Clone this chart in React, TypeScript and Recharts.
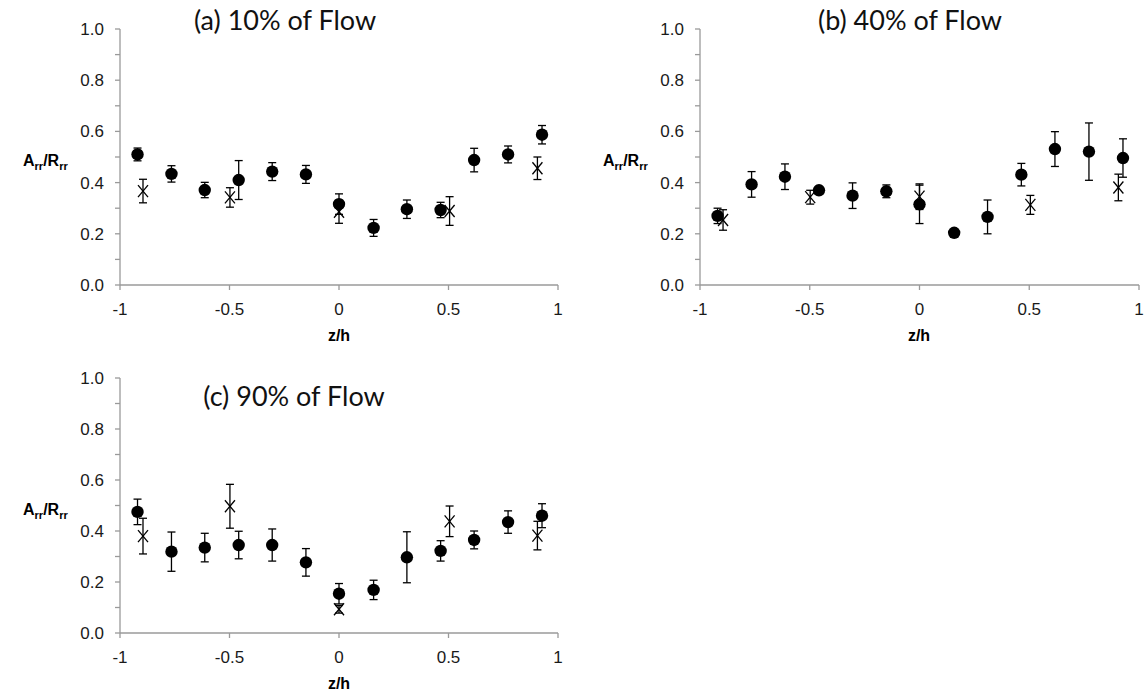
import React from 'react';
import { ScatterChart, Scatter, XAxis, YAxis, ErrorBar } from 'recharts';

// Positions (z/h)
const zCircle = [-0.92, -0.765, -0.613, -0.458, -0.305, -0.151, 0, 0.158, 0.31, 0.464, 0.617, 0.772, 0.927];
const zCross = [-0.895, -0.498, 0, 0.505, 0.906];

// (a) 10% of Flow
const a10Circle = [0.51, 0.434, 0.371, 0.41, 0.443, 0.432, 0.316, 0.223, 0.296, 0.293, 0.488, 0.51, 0.587];
const a10CircleErr = [0.025, 0.032, 0.03, 0.076, 0.035, 0.035, 0.04, 0.033, 0.036, 0.03, 0.046, 0.033, 0.036];
const a10Cross = [0.367, 0.342, 0.286, 0.289, 0.456];
const a10CrossErr = [0.046, 0.038, 0.045, 0.056, 0.044];

// (b) 40% of Flow
const b40Circle = [0.27, 0.393, 0.423, 0.37, 0.349, 0.366, 0.315, 0.204, 0.266, 0.431, 0.531, 0.521, 0.496];
const b40CircleErr = [0.03, 0.05, 0.05, 0.015, 0.05, 0.025, 0.075, 0.01, 0.066, 0.044, 0.068, 0.112, 0.075];
const b40Cross = [0.254, 0.343, 0.345, 0.313, 0.381];
const b40CrossErr = [0.04, 0.027, 0.05, 0.037, 0.052];

// (c) 90% of Flow
const c90Circle = [0.475, 0.319, 0.335, 0.345, 0.345, 0.277, 0.154, 0.169, 0.297, 0.322, 0.365, 0.435, 0.46];
const c90CircleErr = [0.05, 0.077, 0.056, 0.054, 0.063, 0.054, 0.04, 0.038, 0.1, 0.04, 0.035, 0.044, 0.047];
const c90Cross = [0.38, 0.497, 0.093, 0.438, 0.382];
const c90CrossErr = [0.07, 0.086, 0.015, 0.06, 0.056];

const xTicks = [-1, -0.5, 0, 0.5, 1];
const yTicks = [0, 0.1, 0.2, 0.3, 0.4, 0.5, 0.6, 0.7, 0.8, 0.9, 1.0];

const titles = ['(a) 10% of Flow', '(b) 40% of Flow', '(c) 90% of Flow'];

const AXIS_COLOR = '#9a9a9a';
const TICK_FONT = { fontFamily: '"Liberation Sans", Arial, sans-serif', fontSize: 17, fill: '#1a1a1a' };

const renderCircle = (props: any) => {
  const { cx, cy } = props;
  if (cx == null || cy == null) return <g />;
  return <circle cx={cx} cy={cy} r={6.2} fill="#000" stroke="none" />;
};

const renderCross = (props: any) => {
  const { cx, cy } = props;
  if (cx == null || cy == null) return <g />;
  return (
    <g stroke="#000" strokeWidth={1.3}>
      <line x1={cx - 5} y1={cy - 6} x2={cx + 5} y2={cy + 6} />
      <line x1={cx - 5} y1={cy + 6} x2={cx + 5} y2={cy - 6} />
    </g>
  );
};

type PanelProps = {
  left: number;
  top: number;
  width: number;
  height: number;
  rightMargin: number;
  circles: number[];
  circleErr: number[];
  crosses: number[];
  crossErr: number[];
};

function Panel({ left, top, width, height, rightMargin, circles, circleErr, crosses, crossErr }: PanelProps) {
  const circleData = zCircle.map((z, i) => ({ z, v: circles[i], e: circleErr[i] }));
  const crossData = zCross.map((z, i) => ({ z, v: crosses[i], e: crossErr[i] }));
  return (
    <div style={{ position: 'absolute', left, top }}>
      <ScatterChart width={width} height={height} margin={{ top: 29, right: rightMargin, bottom: 0, left: 0 }}>
        <XAxis
          type="number"
          dataKey="z"
          domain={[-1, 1]}
          ticks={xTicks}
          interval={0}
          height={65}
          tickSize={5}
          tickMargin={13}
          axisLine={{ stroke: AXIS_COLOR, strokeWidth: 1.3 }}
          tickLine={{ stroke: AXIS_COLOR, strokeWidth: 1.3 }}
          tick={TICK_FONT}
          allowDataOverflow
        />
        <YAxis
          type="number"
          dataKey="v"
          domain={[0, 1]}
          ticks={yTicks}
          interval={0}
          width={120}
          tickSize={5}
          tickMargin={11}
          axisLine={{ stroke: AXIS_COLOR, strokeWidth: 1.3 }}
          tickLine={{ stroke: AXIS_COLOR, strokeWidth: 1.3 }}
          tick={TICK_FONT}
          tickFormatter={(v: number) => (Math.round(v * 10) % 2 === 0 ? v.toFixed(1) : '')}
          allowDataOverflow
        />
        <Scatter data={crossData} shape={renderCross} isAnimationActive={false}>
          <ErrorBar dataKey="e" direction="y" width={4} stroke="#000" strokeWidth={1.3} />
        </Scatter>
        <Scatter data={circleData} shape={renderCircle} isAnimationActive={false}>
          <ErrorBar dataKey="e" direction="y" width={4} stroke="#000" strokeWidth={1.3} />
        </Scatter>
      </ScatterChart>
    </div>
  );
}

const YLabel = ({ x, y }: { x: number; y: number }) => (
  <text x={x} y={y} fontFamily='"Liberation Sans", Arial, sans-serif' fontWeight="bold" fontSize={16} fill="#000">
    A<tspan fontSize={11} dy={4}>rr</tspan>
    <tspan dy={-4}>/R</tspan>
    <tspan fontSize={11} dy={4}>rr</tspan>
  </text>
);

const XLabel = ({ x, y }: { x: number; y: number }) => (
  <text x={x} y={y} textAnchor="middle" fontFamily='"Liberation Sans", Arial, sans-serif' fontWeight="bold" fontSize={16} fill="#000">
    z/h
  </text>
);

const Title = ({ x, y, label }: { x: number; y: number; label: string }) => (
  <text x={x} y={y} textAnchor="middle" fontFamily="Lato, 'Open Sans', sans-serif" fontSize={27} fill="#111">
    {label}
  </text>
);

export default function App() {
  return (
    <div style={{ position: 'absolute', left: 0, top: 0, width: 1144, height: 698, background: '#fff', overflow: 'hidden' }}>
      <Panel left={0} top={0} width={570} height={350} rightMargin={12} circles={a10Circle} circleErr={a10CircleErr} crosses={a10Cross} crossErr={a10CrossErr} />
      <Panel left={580} top={0} width={564} height={350} rightMargin={5} circles={b40Circle} circleErr={b40CircleErr} crosses={b40Cross} crossErr={b40CrossErr} />
      <Panel left={0} top={349} width={570} height={349} rightMargin={12} circles={c90Circle} circleErr={c90CircleErr} crosses={c90Cross} crossErr={c90CrossErr} />
      <svg width={1144} height={698} style={{ position: 'absolute', left: 0, top: 0, pointerEvents: 'none' }}>
        <Title x={285} y={30} label={titles[0]} />
        <Title x={910} y={30} label={titles[1]} />
        <Title x={294} y={406} label={titles[2]} />
        <YLabel x={23} y={166} />
        <YLabel x={603} y={166} />
        <YLabel x={23} y={515} />
        <XLabel x={339} y={341} />
        <XLabel x={919} y={341} />
        <XLabel x={339} y={689} />
      </svg>
    </div>
  );
}
